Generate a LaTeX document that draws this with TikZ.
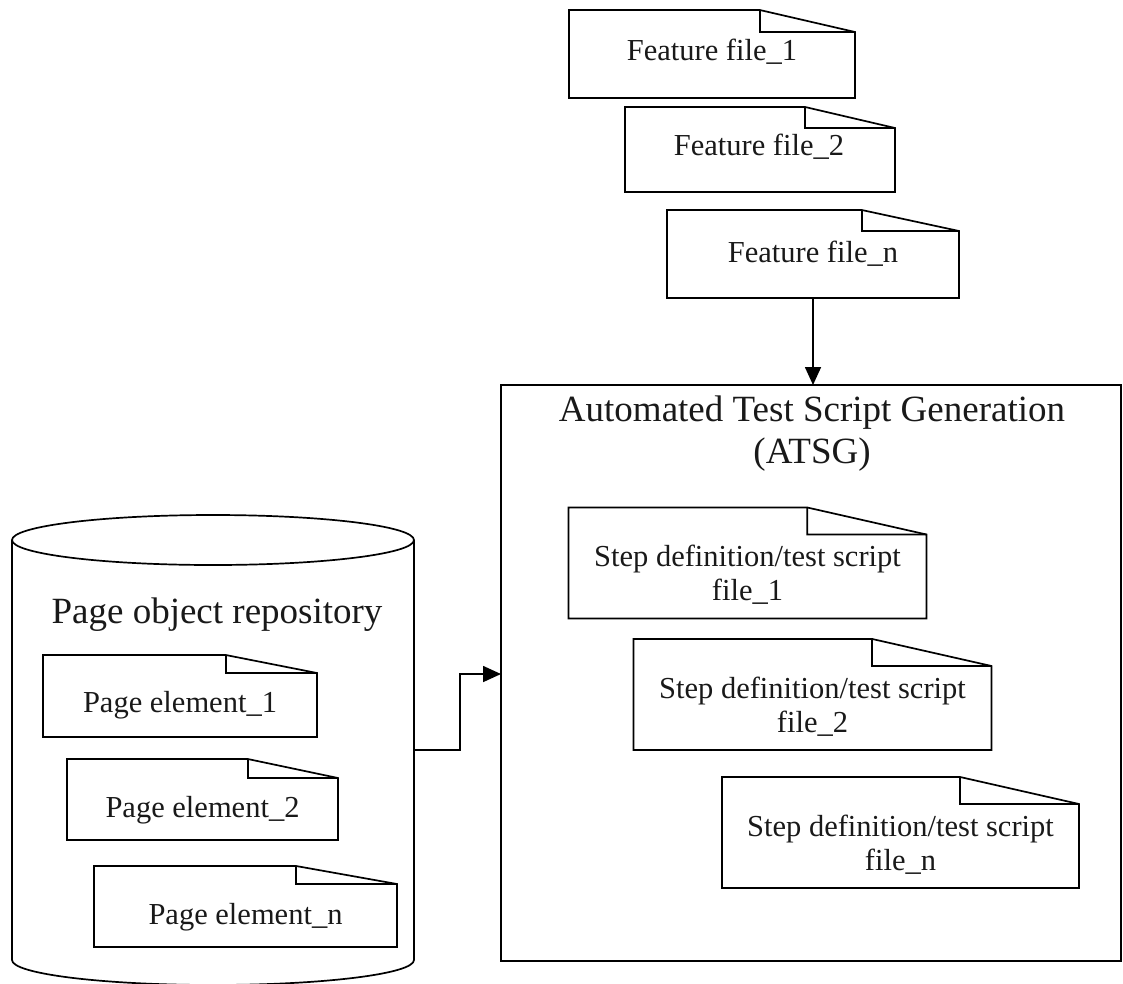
\documentclass[tikz,border=0pt]{standalone}
\usepackage{fontspec}
\setmainfont{Liberation Serif}
\usetikzlibrary{calc,arrows.meta}

\tikzset{
  outline/.style={draw=black, line width=1.7pt, line join=miter},
  boxarea/.style={rectangle, draw=none, inner sep=0pt, outer sep=0pt},
  boxtext/.style={anchor=base, inner sep=0pt, text=black!90,
    font=\fontsize{30.5}{34.5}\selectfont},
  headtext/.style={anchor=base, inner sep=0pt, text=black!90,
    font=\fontsize{37}{42}\selectfont},
  conn/.style={draw=black, line width=1.7pt, -{Triangle[length=18pt,width=16pt]}},
}

% document outline with a folded top-right corner: #1 node, #2 fold depth
\newcommand\docoutline[2]{%
  \draw[outline] (#1.north west) -- ($(#1.north west)!0.667!(#1.north east)$) coordinate (#1-fold)
    -- ([yshift=-#2]#1.north east) -- (#1.south east) -- (#1.south west) -- cycle;
  \draw[outline] (#1-fold) -- ([yshift=-#2]#1-fold) -- ([yshift=-#2]#1.north east);
}

\begin{document}
\begin{tikzpicture}[x=1pt,y=-1pt]
\useasboundingbox (0,0) rectangle (1123,983);

% ---- feature files ----
\node[boxarea, minimum width=286pt, minimum height=88pt] (ff1) at (712,54) {};
\node[boxarea, minimum width=270pt, minimum height=85pt] (ff2) at (760,149.5) {};
\node[boxarea, minimum width=292pt, minimum height=88pt] (ffn) at (813,254) {};
\docoutline{ff1}{22pt}
\docoutline{ff2}{21pt}
\docoutline{ffn}{21pt}
\node[boxtext] (ff1t) at (712,60) {Feature file\_1};
\node[boxtext] (ff2t) at (759,155) {Feature file\_2};
\node[boxtext] (ffnt) at (813,262) {Feature file\_n};

% ---- ATSG block ----
\node[boxarea, draw=black, line width=1.7pt, minimum width=620pt, minimum height=576pt] (atsg) at (811,673) {};
\node[headtext] (atsgt) at (812,421)
  {\begin{tabular}[t]{@{}c@{}}Automated Test Script Generation\\(ATSG)\end{tabular}};

\node[boxarea, minimum width=358pt, minimum height=111pt] (sd1) at (747.5,563) {};
\node[boxarea, minimum width=358pt, minimum height=111pt] (sd2) at (812.5,694.5) {};
\node[boxarea, minimum width=357pt, minimum height=111pt] (sdn) at (900.5,832.5) {};
\docoutline{sd1}{27pt}
\docoutline{sd2}{27pt}
\docoutline{sdn}{27pt}
\node[boxtext] (sd1t) at (747.5,566)
  {\begin{tabular}[t]{@{}c@{}}Step definition/test script\\file\_1\end{tabular}};
\node[boxtext] (sd2t) at (812.5,698)
  {\begin{tabular}[t]{@{}c@{}}Step definition/test script\\file\_2\end{tabular}};
\node[boxtext] (sdnt) at (900.5,836)
  {\begin{tabular}[t]{@{}c@{}}Step definition/test script\\file\_n\end{tabular}};

% ---- page object repository (cylinder) ----
\node[boxarea, minimum width=402pt, minimum height=420pt] (repo) at (213,750) {};
\draw[outline] (repo.north west) -- (repo.south west)
  arc[start angle=180, end angle=360, x radius=201pt, y radius=25pt] -- (repo.north east);
\draw[outline] (repo.north) ellipse[x radius=201pt, y radius=25pt];
\node[headtext] (repot) at (217,623) {Page object repository};

\node[boxarea, minimum width=274pt, minimum height=82pt] (pe1) at (180,696) {};
\node[boxarea, minimum width=271pt, minimum height=81pt] (pe2) at (202.5,799.5) {};
\node[boxarea, minimum width=303pt, minimum height=81pt] (pen) at (245.5,906.5) {};
\docoutline{pe1}{18pt}
\docoutline{pe2}{19pt}
\docoutline{pen}{18pt}
\node[boxtext] (pe1t) at (180,712) {Page element\_1};
\node[boxtext] (pe2t) at (202.5,817) {Page element\_2};
\node[boxtext] (pent) at (245.5,924) {Page element\_n};

% ---- connectors ----
\draw[conn] (ffn.south) -- (ffn.south |- atsg.north);
\coordinate (jog) at (460,674);
\draw[conn] (repo.east) -- (repo.east -| jog) |- (atsg.west |- jog);
\end{tikzpicture}
\end{document}
